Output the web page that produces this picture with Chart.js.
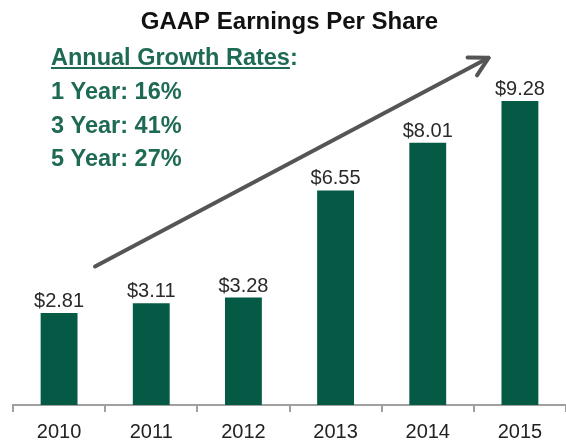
<!DOCTYPE html>
<html>
<head>
<meta charset="utf-8">
<script src="https://cdn.jsdelivr.net/npm/chart.js@4"></script>
<style>
  html, body { margin: 0; padding: 0; background: #ffffff; }
  #wrap { width: 566px; height: 448px; }
</style>
</head>
<body>
<div id="wrap"><canvas id="myChart"></canvas></div>
<script>
// data
const years = ['2010', '2011', '2012', '2013', '2014', '2015'];
const eps = [2.81, 3.11, 3.28, 6.55, 8.01, 9.28];
const growthPeriods = ['1 Year', '3 Year', '5 Year'];
const growthRates = [16, 41, 27];

const green = '#055a45';
const textGreen = '#1e6a54';

Chart.defaults.font.family = "'Liberation Sans', Arial, sans-serif";

// $ labels above the bars
const valueLabels = {
    id: 'valueLabels',
    afterDatasetsDraw(chart) {
        const ctx = chart.ctx;
        const meta = chart.getDatasetMeta(0);
        ctx.save();
        ctx.font = "20px 'Liberation Sans', Arial, sans-serif";
        ctx.fillStyle = '#2a2a2a';
        ctx.textAlign = 'center';
        ctx.textBaseline = 'alphabetic';
        meta.data.forEach((bar, i) => {
            ctx.fillText('$' + eps[i].toFixed(2), bar.x, bar.y - 6);
        });
        ctx.restore();
    }
};

// growth rate box + trend arrow
const annotations = {
    id: 'annotations',
    afterDraw(chart) {
        const ctx = chart.ctx;
        const x = chart.scales.x, y = chart.scales.y;
        ctx.save();

        // arrow, given in scale units
        const from = { i: 0.39, v: 4.23 };
        const to = { i: 4.66, v: 10.6 };
        const x0 = x.getPixelForValue(from.i), y0 = y.getPixelForValue(from.v);
        const x1 = x.getPixelForValue(to.i), y1 = y.getPixelForValue(to.v);
        const ang = Math.atan2(y1 - y0, x1 - x0);
        ctx.strokeStyle = '#555555';
        ctx.lineWidth = 4;
        ctx.lineCap = 'round';
        ctx.lineJoin = 'round';
        ctx.beginPath();
        ctx.moveTo(x0, y0);
        ctx.lineTo(x1, y1);
        ctx.stroke();
        const head = 21;
        ctx.beginPath();
        ctx.moveTo(x1 - head * Math.cos(ang - 0.5), y1 - head * Math.sin(ang - 0.5));
        ctx.lineTo(x1, y1);
        ctx.lineTo(x1 - head * Math.cos(ang + 0.5), y1 - head * Math.sin(ang + 0.5));
        ctx.stroke();

        // text block
        ctx.font = "bold 23.5px 'Liberation Sans', Arial, sans-serif";
        ctx.fillStyle = textGreen;
        ctx.textAlign = 'left';
        ctx.textBaseline = 'alphabetic';
        const left = 51;
        const heading = 'Annual Growth Rates';
        ctx.fillText(heading + ':', left, 65);
        const w = ctx.measureText(heading).width;
        ctx.fillRect(left, 67, w, 2);
        growthPeriods.forEach((p, k) => {
            ctx.fillText(p + ': ' + growthRates[k] + '%', left, 99 + k * 33.5);
        });
        ctx.restore();
    }
};

const ctx = document.getElementById('myChart').getContext('2d');
new Chart(ctx, {
    type: 'bar',
    data: {
        labels: years,
        datasets: [{
            data: eps,
            backgroundColor: green,
            borderWidth: 0,
            categoryPercentage: 1,
            barPercentage: 0.4
        }]
    },
    options: {
        responsive: true,
        maintainAspectRatio: false,
        animation: false,
        layout: { padding: { left: 13, right: 0, top: 0, bottom: -4 } },
        plugins: {
            legend: { display: false },
            tooltip: { enabled: false },
            title: {
                display: true,
                text: 'GAAP Earnings Per Share',
                color: '#111111',
                font: { size: 24, weight: 'bold' },
                padding: { top: 8, bottom: 3 }
            }
        },
        scales: {
            x: {
                border: { display: true, color: '#a0a0a0', width: 2 },
                grid: { display: true, drawOnChartArea: false, drawTicks: true, tickLength: 7, color: '#a0a0a0', lineWidth: 2 },
                ticks: { color: '#222222', font: { size: 20, lineHeight: 1 }, padding: 10, maxRotation: 0 }
            },
            y: {
                display: false,
                min: 0,
                max: 11.15
            }
        }
    },
    plugins: [valueLabels, annotations]
});
</script>
</body>
</html>
